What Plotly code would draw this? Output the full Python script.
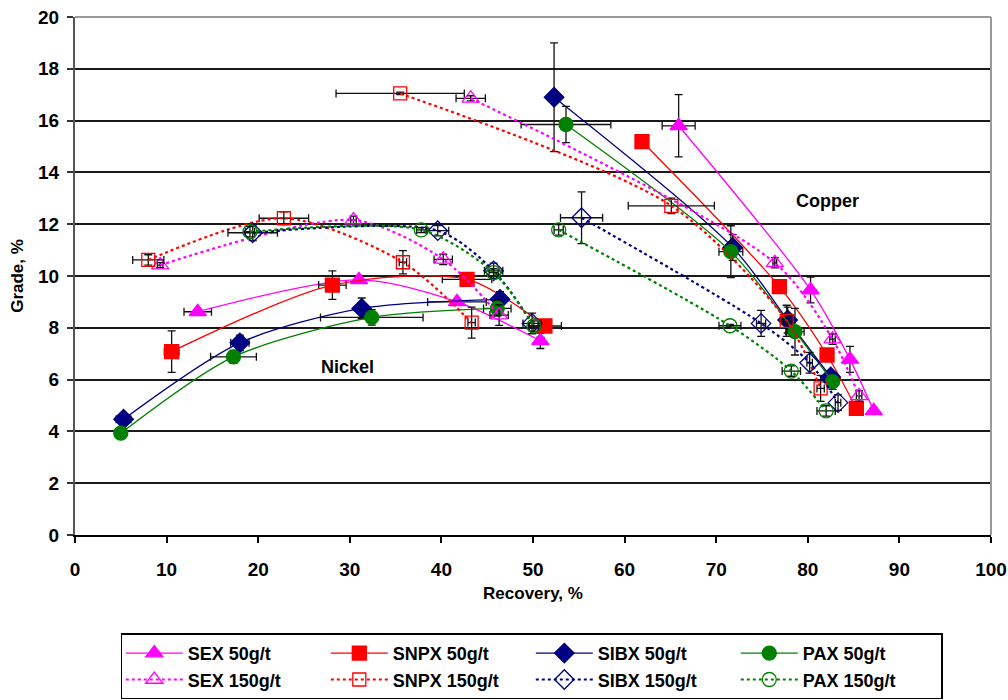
import plotly.graph_objects as go

# Grade-recovery data: (recovery %, grade %, recovery error, grade error)
# Nickel branch
ni_sex50_x = [13.4, 31.0, 41.7, 50.8]
ni_sex50_y = [8.62, 9.85, 9.0, 7.5]
ni_sex50_ex = [1.5, 0.4, 3.2, 0.4]
ni_sex50_ey = [0.1, 0.1, 0.1, 0.3]

ni_snpx50_x = [10.55, 28.1, 42.8, 51.3]
ni_snpx50_y = [7.08, 9.65, 9.87, 8.07]
ni_snpx50_ex = [0.8, 1.5, 2.7, 1.8]
ni_snpx50_ey = [0.8, 0.55, 0.2, 0.2]

ni_sibx50_x = [5.3, 18.0, 31.3, 46.4]
ni_sibx50_y = [4.47, 7.42, 8.75, 9.1]
ni_sibx50_ex = [0.8, 1.0, 0.5, 0.5]
ni_sibx50_ey = [0.1, 0.3, 0.4, 0.3]

ni_pax50_x = [5.0, 17.3, 32.4, 46.1]
ni_pax50_y = [3.93, 6.88, 8.4, 8.75]
ni_pax50_ex = [0.5, 2.5, 5.6, 1.5]
ni_pax50_ey = [0.1, 0.25, 0.3, 0.3]

ni_sex150_x = [9.3, 30.4, 40.2, 46.3]
ni_sex150_y = [10.42, 12.16, 10.64, 8.49]
ni_sex150_ex = [0.3, 0.3, 1.0, 1.0]
ni_sex150_ey = [0.1, 0.15, 0.2, 0.4]

ni_snpx150_x = [8.0, 22.8, 35.8, 43.3]
ni_snpx150_y = [10.62, 12.23, 10.53, 8.2]
ni_snpx150_ex = [1.7, 2.7, 0.4, 0.4]
ni_snpx150_ey = [0.2, 0.25, 0.45, 0.6]

ni_sibx150_x = [19.4, 39.6, 45.7, 49.9]
ni_sibx150_y = [11.67, 11.75, 10.2, 8.17]
ni_sibx150_ex = [2.7, 1.2, 1.0, 1.0]
ni_sibx150_ey = [0.3, 0.2, 0.3, 0.4]

ni_pax150_x = [19.1, 37.8, 45.7, 50.1]
ni_pax150_y = [11.71, 11.78, 10.13, 8.07]
ni_pax150_ex = [0.5, 0.5, 0.5, 0.5]
ni_pax150_ey = [0.2, 0.1, 0.15, 0.2]

# Copper branch
cu_sex50_x = [65.9, 80.3, 84.6, 87.2]
cu_sex50_y = [15.8, 9.46, 6.78, 4.79]
cu_sex50_ex = [1.8, 0.3, 0.3, 0.3]
cu_sex50_ey = [1.2, 0.5, 0.5, 0.1]

cu_snpx50_x = [61.9, 76.9, 82.1, 85.3]
cu_snpx50_y = [15.19, 9.59, 6.95, 4.89]
cu_snpx50_ex = [0.0, 0.2, 0.2, 0.2]
cu_snpx50_ey = [0.0, 0.1, 0.2, 0.1]

cu_sibx50_x = [52.3, 71.8, 77.8, 82.5]
cu_sibx50_y = [16.9, 11.1, 8.3, 6.1]
cu_sibx50_ex = [0.5, 0.5, 0.5, 0.3]
cu_sibx50_ey = [2.1, 0.5, 0.5, 0.2]

cu_pax50_x = [53.6, 71.6, 78.6, 82.7]
cu_pax50_y = [15.85, 10.94, 7.85, 5.92]
cu_pax50_ex = [4.9, 1.3, 1.0, 0.6]
cu_pax50_ey = [0.7, 1.0, 0.9, 0.3]

cu_sex150_x = [43.2, 76.4, 82.7, 85.6]
cu_sex150_y = [16.86, 10.51, 7.56, 5.37]
cu_sex150_ex = [1.6, 0.2, 0.3, 0.3]
cu_sex150_ey = [0.1, 0.2, 0.2, 0.2]

cu_snpx150_x = [35.5, 65.1, 77.7, 81.4]
cu_snpx150_y = [17.05, 12.71, 8.27, 5.66]
cu_snpx150_ex = [7.0, 4.7, 0.5, 0.4]
cu_snpx150_ey = [0.05, 0.3, 0.6, 0.5]

cu_sibx150_x = [55.3, 74.9, 80.2, 83.3]
cu_sibx150_y = [12.25, 8.17, 6.65, 5.11]
cu_sibx150_ex = [2.3, 0.5, 0.3, 0.3]
cu_sibx150_ey = [1.0, 0.5, 0.4, 0.3]

cu_pax150_x = [52.8, 71.5, 78.2, 82.0]
cu_pax150_y = [11.78, 8.08, 6.33, 4.79]
cu_pax150_ex = [0.5, 1.2, 1.0, 1.0]
cu_pax150_ey = [0.2, 0.05, 0.2, 0.2]

x_ticks = [0, 10, 20, 30, 40, 50, 60, 70, 80, 90, 100]
y_ticks = [0, 2, 4, 6, 8, 10, 12, 14, 16, 18, 20]

MAGENTA = "#FF00FF"
RED = "#FF0000"
NAVY = "#000080"
GREEN = "#008000"

series = [
    ("SEX 50g/t", MAGENTA, "triangle-up", True, 15,
     (ni_sex50_x, ni_sex50_y, ni_sex50_ex, ni_sex50_ey),
     (cu_sex50_x, cu_sex50_y, cu_sex50_ex, cu_sex50_ey)),
    ("SNPX 50g/t", RED, "square", True, 14,
     (ni_snpx50_x, ni_snpx50_y, ni_snpx50_ex, ni_snpx50_ey),
     (cu_snpx50_x, cu_snpx50_y, cu_snpx50_ex, cu_snpx50_ey)),
    ("SIBX 50g/t", NAVY, "diamond", True, 15,
     (ni_sibx50_x, ni_sibx50_y, ni_sibx50_ex, ni_sibx50_ey),
     (cu_sibx50_x, cu_sibx50_y, cu_sibx50_ex, cu_sibx50_ey)),
    ("PAX 50g/t", GREEN, "circle", True, 14,
     (ni_pax50_x, ni_pax50_y, ni_pax50_ex, ni_pax50_ey),
     (cu_pax50_x, cu_pax50_y, cu_pax50_ex, cu_pax50_ey)),
    ("SEX 150g/t", MAGENTA, "triangle-up-open", False, 15,
     (ni_sex150_x, ni_sex150_y, ni_sex150_ex, ni_sex150_ey),
     (cu_sex150_x, cu_sex150_y, cu_sex150_ex, cu_sex150_ey)),
    ("SNPX 150g/t", RED, "square-open", False, 13,
     (ni_snpx150_x, ni_snpx150_y, ni_snpx150_ex, ni_snpx150_ey),
     (cu_snpx150_x, cu_snpx150_y, cu_snpx150_ex, cu_snpx150_ey)),
    ("SIBX 150g/t", NAVY, "diamond-open", False, 15,
     (ni_sibx150_x, ni_sibx150_y, ni_sibx150_ex, ni_sibx150_ey),
     (cu_sibx150_x, cu_sibx150_y, cu_sibx150_ex, cu_sibx150_ey)),
    ("PAX 150g/t", GREEN, "circle-open", False, 14,
     (ni_pax150_x, ni_pax150_y, ni_pax150_ex, ni_pax150_ey),
     (cu_pax150_x, cu_pax150_y, cu_pax150_ex, cu_pax150_ey)),
]

fig = go.Figure()

for name, color, symbol, solid, size, ni, cu in series:
    for i, (xs, ys, exs, eys) in enumerate((ni, cu)):
        fig.add_trace(go.Scatter(
            x=xs, y=ys,
            mode="lines+markers",
            name=f"<b>{name}</b>",
            legendgroup=name,
            showlegend=(i == 0),
            line=dict(color=color, width=1.3 if solid else 2.2,
                      dash="solid" if solid else "dot", shape="spline", smoothing=0.8),
            marker=dict(symbol=symbol, size=size, color=color,
                        line=dict(color=color, width=1.3)),
            error_x=dict(type="data", array=exs, color="#111111", thickness=1.3, width=4),
            error_y=dict(type="data", array=eys, color="#111111", thickness=1.3, width=4),
        ))

AX_FONT = dict(family="Liberation Sans Narrow, Liberation Sans, Arial", size=19, color="#000000")

fig.update_layout(
    width=1008, height=700,
    margin=dict(l=75, r=17, t=17, b=165, autoexpand=False),
    paper_bgcolor="white", plot_bgcolor="white",
    font=dict(family="Liberation Sans, Arial", color="#000000"),
    xaxis=dict(
        range=[0, 100], tickvals=x_ticks, ticktext=[f"<b>{v}</b>" for v in x_ticks],
        showgrid=False, zeroline=False, automargin=False,
        showline=True, linecolor="#000000", linewidth=1.5,
        ticks="outside", ticklen=6, tickwidth=1.5, tickcolor="#000000",
        tickfont=AX_FONT, ticklabelstandoff=10,
        title=dict(text="<b>Recovery, %</b>", font=dict(family="Liberation Sans, Arial", size=17),
                   standoff=9),
    ),
    yaxis=dict(
        range=[0, 20], tickvals=y_ticks, ticktext=[f"<b>{v}</b>" for v in y_ticks],
        showgrid=True, gridcolor="#1a1a1a", gridwidth=1.5, automargin=False,
        zeroline=False, showline=True, linecolor="#555555", linewidth=2,
        ticks="outside", ticklen=6, tickwidth=1.5, tickcolor="#333333",
        tickfont=AX_FONT, ticklabelstandoff=4,
        title=dict(text="<b>Grade, %</b>", font=dict(family="Liberation Sans, Arial", size=17),
                   standoff=10),
    ),
    legend=dict(
        orientation="h", x=0.05, xanchor="left", y=-0.19, yanchor="top",
        entrywidth=133, entrywidthmode="pixels", itemwidth=57,
        bordercolor="#000000", borderwidth=1.5, bgcolor="white",
        font=dict(family="Liberation Sans Narrow, Liberation Sans, Arial", size=18),
        tracegroupgap=0, itemsizing="trace",
    ),
    shapes=[
        dict(type="line", xref="paper", yref="paper", x0=0, x1=1, y0=1, y1=1,
             line=dict(color="#9a9a9a", width=2)),
        dict(type="line", xref="paper", yref="paper", x0=1, x1=1, y0=0, y1=1,
             line=dict(color="#9a9a9a", width=2)),
    ],
    annotations=[
        dict(x=82.2, y=12.9, xref="x", yref="y", text="<b>Copper</b>", showarrow=False,
             font=dict(family="Liberation Sans, Arial", size=18, color="#000000")),
        dict(x=29.7, y=6.5, xref="x", yref="y", text="<b>Nickel</b>", showarrow=False,
             font=dict(family="Liberation Sans, Arial", size=18, color="#000000")),
    ],
)

fig.write_html("out.html")
